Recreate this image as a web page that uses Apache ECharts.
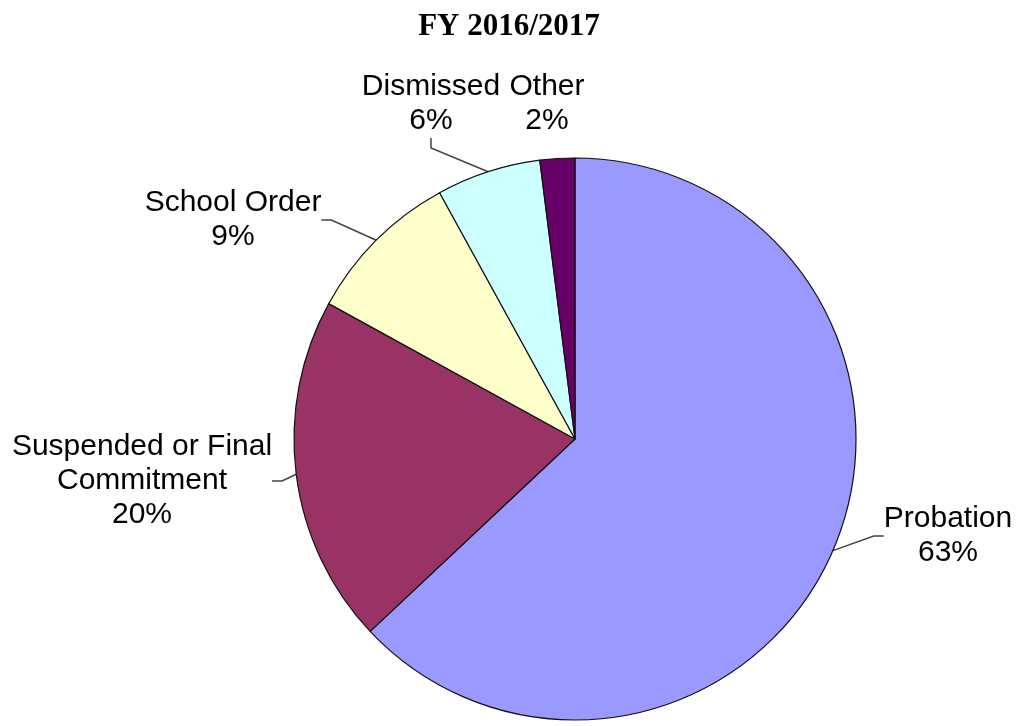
<!DOCTYPE html>
<html>
<head>
<meta charset="utf-8">
<style>
  html, body { margin: 0; padding: 0; background: #fff; }
  #pieChart { width: 1018px; height: 726px; }
</style>
<script src="https://cdn.jsdelivr.net/npm/echarts@6/dist/echarts.min.js"></script>
</head>
<body>
<div id="pieChart"></div>
<script>
// chart data
var titleText = 'FY 2016/2017'
var categories = ['Probation', 'Suspended or Final\nCommitment', 'School Order', 'Dismissed', 'Other']
var shares = [63, 20, 9, 6, 2]
var sliceColors = ['#9999FF', '#993366', '#FFFFCC', '#CCFFFF', '#660066']

// where each label block sits (center of text block, px)
var labelPos = [[948, 536], [142, 481], [233, 220], [431, 104], [547, 104]]

var chart = echarts.init(document.getElementById('pieChart'))

var pieData = categories.map(function (name, i) {
  var item = {
    name: name,
    value: shares[i],
    itemStyle: { color: sliceColors[i] }
  }
  // Other sits right above its slice, no leader line
  if (i === 4) {
    item.labelLine = { show: false }
  }
  return item
})

chart.setOption({
  animation: false,
  title: {
    text: titleText,
    left: 'center',
    top: 6,
    textStyle: {
      fontFamily: '"Liberation Serif", "Times New Roman", serif',
      fontWeight: 'bold',
      fontSize: 31,
      color: '#000'
    }
  },
  series: [{
    type: 'pie',
    center: [575, 439],
    radius: 281,
    startAngle: 90,
    clockwise: true,
    avoidLabelOverlap: false,
    itemStyle: {
      borderColor: '#111',
      borderWidth: 1.2
    },
    label: {
      show: true,
      position: 'outside',
      formatter: '{b}\n{d}%',
      fontFamily: '"Liberation Sans", Arial, sans-serif',
      fontSize: 30,
      lineHeight: 34,
      color: '#000',
      align: 'center'
    },
    labelLine: {
      show: true,
      length: 15,
      length2: 10,
      lineStyle: { color: '#444', width: 1.5 }
    },
    labelLayout: function (params) {
      var p = labelPos[params.dataIndex]
      return {
        x: p[0],
        y: p[1],
        align: 'center',
        verticalAlign: 'middle'
      }
    },
    emphasis: { disabled: true },
    data: pieData
  }]
})
</script>
</body>
</html>
